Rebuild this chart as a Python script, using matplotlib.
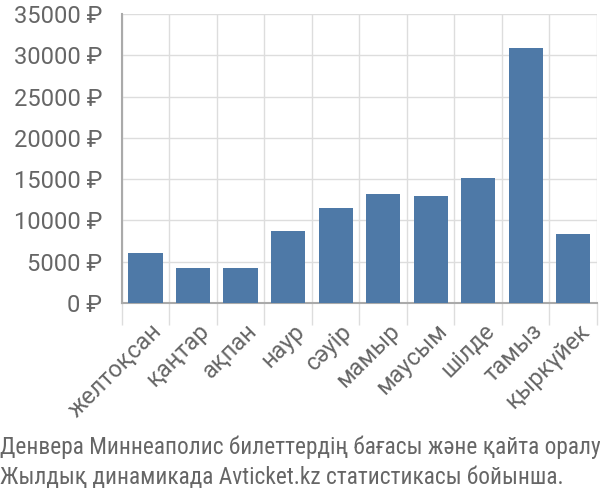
import matplotlib.pyplot as plt
import numpy as np

# Данные
months = ["желтоқсан", "қаңтар", "ақпан", "наур", "сәуір", "мамыр",
          "маусым", "шілде", "тамыз", "қыркүйек"]
prices = [6000, 4190, 4190, 8750, 11450, 13250, 12900, 15150, 30850, 8380]
yticks = [0, 5000, 10000, 15000, 20000, 25000, 30000, 35000]
caption = ["Денвера Миннеаполис билеттердің бағасы және қайта оралу",
           "Жылдық динамикада Avticket.kz статистикасы бойынша."]

plt.rcParams['font.family'] = ['Roboto', 'DejaVu Sans']
narrow = ['Roboto Condensed', 'Archivo Narrow', 'DejaVu Sans']

fig = plt.figure(figsize=(6, 5), dpi=100)
ax = fig.add_axes([0.203, 0.394, 0.792, 0.578])

x = np.arange(len(months))
ax.bar(x, prices, width=0.72, color='#4e79a7', zorder=3)

ax.set_xlim(-0.5, len(months) - 0.5)
ax.set_ylim(0, 35000)
ax.set_yticks(yticks)
ax.set_yticklabels([f"{v} ₽" for v in yticks], fontsize=17, color='#666666')

# вертикальная сетка по границам категорий
ax.set_xticks(np.arange(len(months) + 1) - 0.5)
ax.set_xticklabels([])
ax.tick_params(axis='x', length=16, color='#dddddd', width=1)
ax.tick_params(axis='y', length=0, pad=14)
for i, m in enumerate(months):
    ax.text(i + 0.1, -2000, m, rotation=45, ha='right', va='top',
            fontsize=17, color='#666666', rotation_mode='anchor')

ax.grid(True, color='#dddddd', linewidth=1, zorder=0)
for s in ['top', 'right']:
    ax.spines[s].set_visible(False)
ax.spines['left'].set_color('#aaaaaa')
ax.spines['bottom'].set_color('#aaaaaa')
ax.spines['left'].set_linewidth(1.5)
ax.spines['bottom'].set_linewidth(1.5)

fig.text(0.0, 0.106, caption[0], fontsize=16.8, color='#666666',
         family=narrow, va='center')
fig.text(0.0, 0.046, caption[1], fontsize=16.8, color='#666666',
         family=narrow, va='center')

fig.savefig('out.png', dpi=100)
